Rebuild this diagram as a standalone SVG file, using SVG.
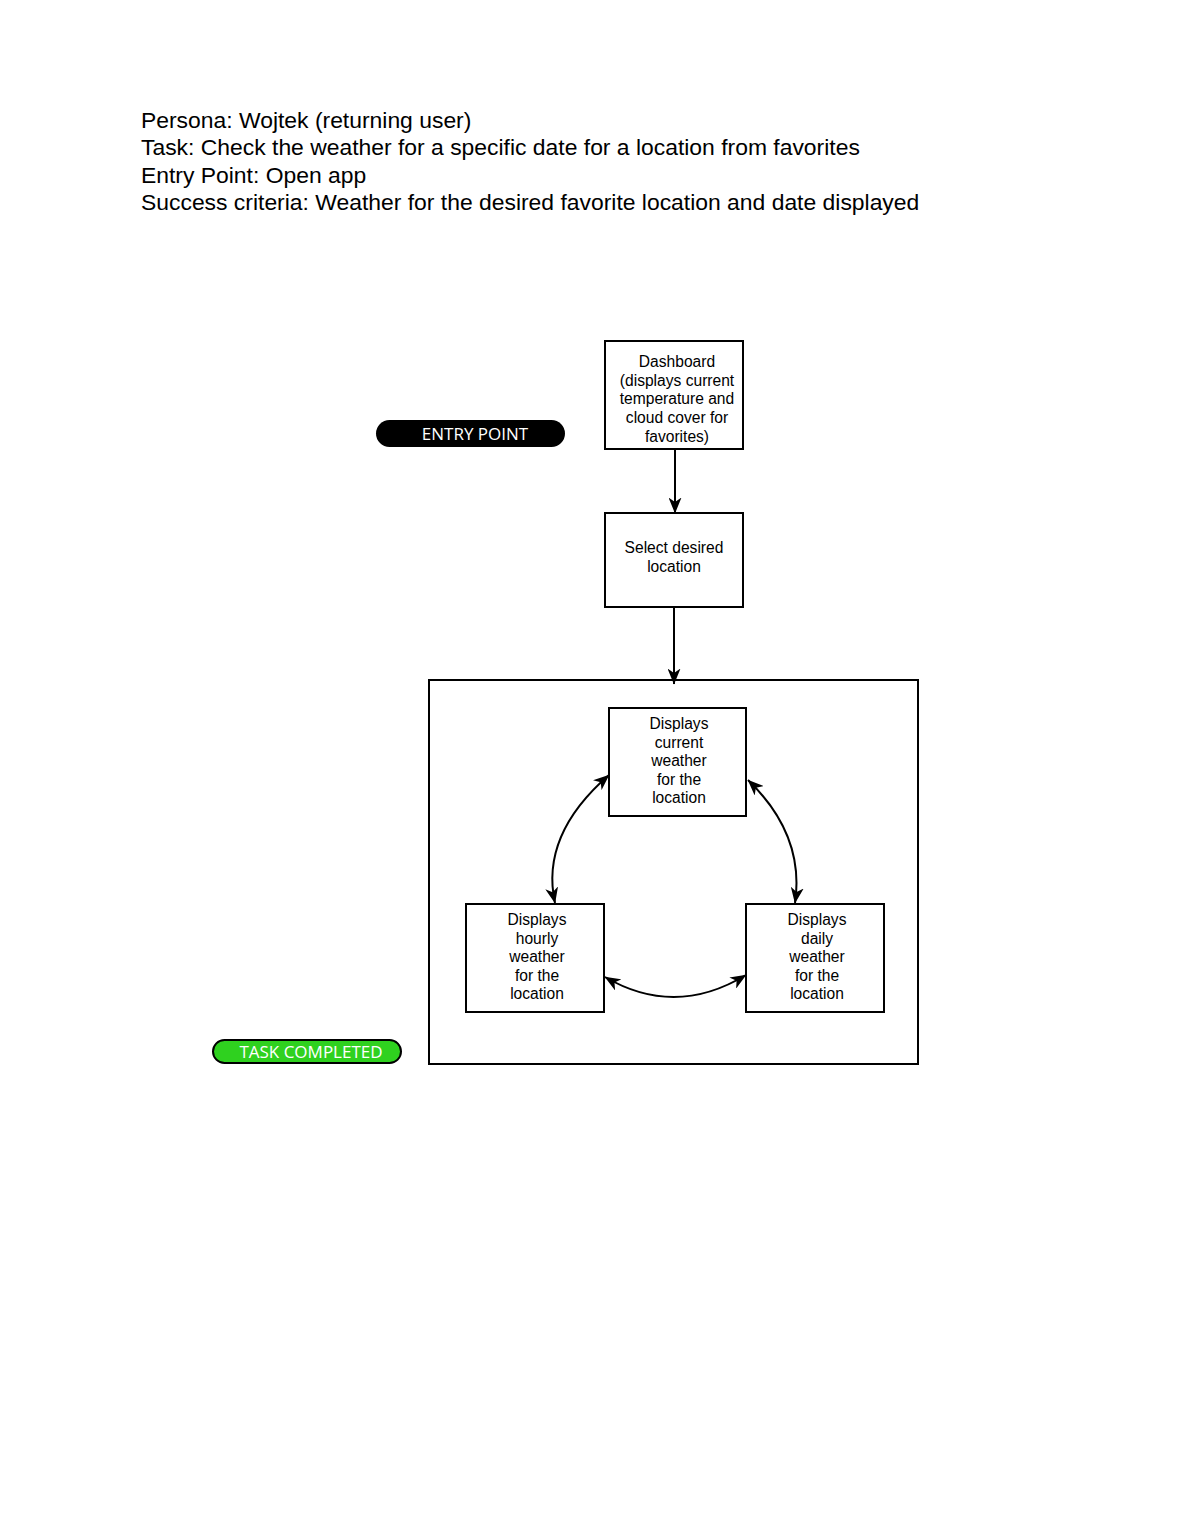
<svg xmlns="http://www.w3.org/2000/svg" width="1200" height="1530" viewBox="0 0 1200 1530">
<defs>
<marker id="ah" viewBox="0 0 16 13" refX="15.5" refY="6.5" markerWidth="16" markerHeight="13" markerUnits="userSpaceOnUse" orient="auto-start-reverse">
<path d="M0,0 L16,6.5 L0,13 L4.5,6.5 z" fill="#000"/>
</marker>
<style>
.hdr{font-family:"Liberation Sans",Arial,sans-serif;font-size:22.9px;fill:#000}
.box{fill:#fff;stroke:#000;stroke-width:2}
.lbl{font-family:"Liberation Sans",Arial,sans-serif;font-size:15.6px;fill:#000;text-anchor:middle}
.conn{fill:none;stroke:#000;stroke-width:2}
.pill{font-family:"Open Sans","Noto Sans",sans-serif;font-size:17px;fill:#fff;text-anchor:middle}
</style>
</defs>
<rect width="1200" height="1530" fill="#fff"/>
<g id="header">
<text class="hdr" x="141" y="128">Persona: Wojtek (returning user)</text>
<text class="hdr" x="141" y="155">Task: Check the weather for a specific date for a location from favorites</text>
<text class="hdr" x="141" y="183">Entry Point: Open app</text>
<text class="hdr" x="141" y="210">Success criteria: Weather for the desired favorite location and date displayed</text>
</g>
<g id="entry-point">
<rect x="376" y="420" width="189" height="27" rx="13.5" fill="#000"/>
<text class="pill" x="475" y="439.5">ENTRY POINT</text>
</g>
<g id="task-completed">
<rect x="213" y="1040" width="188" height="23" rx="11.5" fill="#2fd11f" stroke="#000" stroke-width="2"/>
<text class="pill" x="311" y="1057.5">TASK COMPLETED</text>
</g>
<g id="dashboard">
<rect class="box" x="605" y="341" width="138" height="108"/>
<text class="lbl" x="677" y="367">Dashboard</text>
<text class="lbl" x="677" y="386">(displays current</text>
<text class="lbl" x="677" y="404">temperature and</text>
<text class="lbl" x="677" y="423">cloud cover for</text>
<text class="lbl" x="677" y="442">favorites)</text>
</g>
<g id="select-location">
<rect class="box" x="605" y="513" width="138" height="94"/>
<text class="lbl" x="674" y="553">Select desired</text>
<text class="lbl" x="674" y="572">location</text>
</g>
<g id="weather-container">
<rect class="box" x="429" y="680" width="489" height="384"/>
</g>
<g id="current-weather">
<rect class="box" x="609" y="708" width="137" height="108"/>
<text class="lbl" x="679" y="729">Displays</text>
<text class="lbl" x="679" y="748">current</text>
<text class="lbl" x="679" y="766">weather</text>
<text class="lbl" x="679" y="785">for the</text>
<text class="lbl" x="679" y="803">location</text>
</g>
<g id="hourly-weather">
<rect class="box" x="466" y="904" width="138" height="108"/>
<text class="lbl" x="537" y="925">Displays</text>
<text class="lbl" x="537" y="944">hourly</text>
<text class="lbl" x="537" y="962">weather</text>
<text class="lbl" x="537" y="981">for the</text>
<text class="lbl" x="537" y="999">location</text>
</g>
<g id="daily-weather">
<rect class="box" x="746" y="904" width="138" height="108"/>
<text class="lbl" x="817" y="925">Displays</text>
<text class="lbl" x="817" y="944">daily</text>
<text class="lbl" x="817" y="962">weather</text>
<text class="lbl" x="817" y="981">for the</text>
<text class="lbl" x="817" y="999">location</text>
</g>
<g id="connectors">
<line class="conn" x1="675" y1="450" x2="675" y2="513" marker-end="url(#ah)"/>
<line class="conn" x1="674" y1="608" x2="674" y2="684" marker-end="url(#ah)"/>
<path class="conn" d="M609,775 Q540,835 555,903" marker-start="url(#ah)" marker-end="url(#ah)"/>
<path class="conn" d="M748,780 Q805,835 795,903" marker-start="url(#ah)" marker-end="url(#ah)"/>
<path class="conn" d="M605,977 Q675,1018 746,975" marker-start="url(#ah)" marker-end="url(#ah)"/>
</g>
</svg>
